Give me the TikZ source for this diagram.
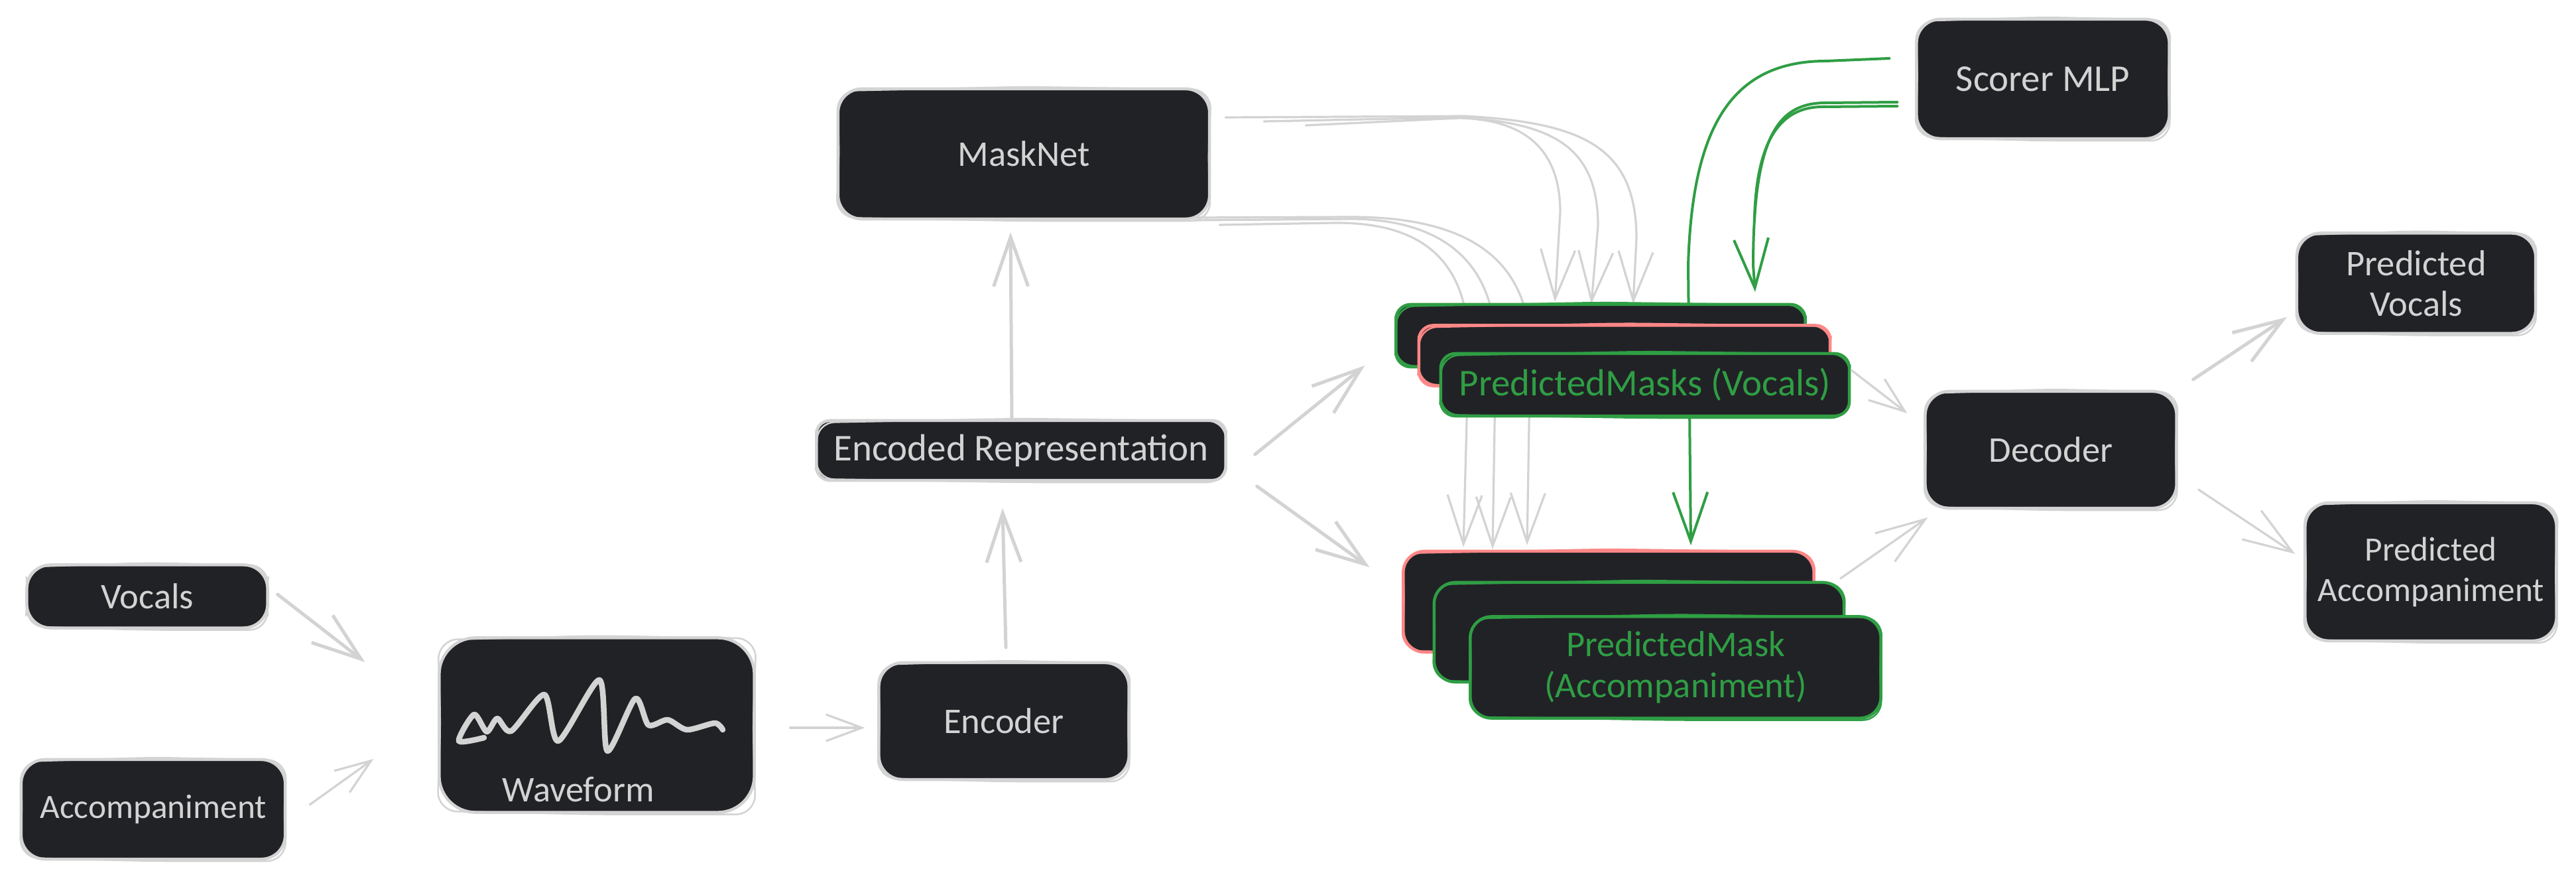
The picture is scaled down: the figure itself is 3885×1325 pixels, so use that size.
\documentclass[tikz,border=0pt]{standalone}
\usepackage{fontspec}
\setmainfont{Carlito}
\usetikzlibrary{arrows.meta,calc}
\definecolor{ink}{HTML}{212226}
\definecolor{chalk}{HTML}{D3D3D3}
\definecolor{sage}{HTML}{2F9E44}
\definecolor{rosy}{HTML}{FF8787}
\tikzset{
  boxn/.style={rectangle, fill=ink, rounded corners=0.36cm, line width=0.045cm, inner sep=0pt, outer sep=0pt,
    align=center, font=\fontsize{15.5pt}{17.4pt}\selectfont},
  lbl/.style={inner sep=0pt, outer sep=0pt, align=center, text=chalk, font=\fontsize{15.5pt}{17.4pt}\selectfont},
  link/.style={draw=chalk, line width=0.05cm, line cap=round, line join=round},
  thinlink/.style={draw=chalk, line width=0.032cm, line cap=round, line join=round},
  greenlink/.style={draw=sage, line width=0.04cm, line cap=round, line join=round},
  headL/.style={-{Straight Barb[length=0.74cm,width=0.52cm]}},
  headS/.style={-{Straight Barb[length=0.54cm,width=0.40cm]}},
  fontsmall/.style={font=\fontsize{14.6pt}{17.4pt}\selectfont},
  fontwide/.style={font=\fontsize{16.2pt}{17.4pt}\selectfont},
}
% #1 extra style, #2 name, #3 x, #4 y, #5 w, #6 h, #7 stroke, #8 text colour, #9 text
\newcommand{\rbox}[9][]{%
  \node[boxn, draw=#7, text=#8, minimum width=#5cm, minimum height=#6cm, #1] (#2) at (#3,#4) {#9};
  \draw[#7, line width=0.025cm, rounded corners=0.3cm]
    ([shift={(-2,3)}]#2.north west) -- ([shift={(0,-3)}]#2.north) -- ([shift={(3,1)}]#2.north east)
    -- ([shift={(-2,0)}]#2.east) -- ([shift={(2,3)}]#2.south east) -- ([shift={(0,3)}]#2.south)
    -- ([shift={(-3,-2)}]#2.south west) -- ([shift={(2,0)}]#2.west) -- cycle;
}
\begin{document}
\begin{tikzpicture}[x=0.01cm,y=-0.01cm]
\useasboundingbox (0,0) rectangle (3885,1325);
\fill[white] (0,0) rectangle (3885,1325);

% plain boxes that the long curves start from
\rbox{masknet}{1544}{232}{5.6}{1.96}{chalk}{chalk}{MaskNet}
\rbox[fontwide]{scorer}{3081}{119}{3.81}{1.8}{chalk}{chalk}{Scorer MLP}

% curves that run behind the stacks
\draw[thinlink,headL] ([shift={(145,-43)}]masknet.east) -- (2200,178) .. controls (2305,180) and (2353,230) .. (2353,320) -- (2345,455);
\draw[thinlink,headL] ([shift={(82,-49)}]masknet.east) -- (2200,177) .. controls (2340,185) and (2410,220) .. (2410,340) -- (2400,458);
\draw[thinlink,headL] ([shift={(24,-55)}]masknet.east) -- (2210,175) .. controls (2385,185) and (2468,220) .. (2468,360) -- (2463,458);
\draw[thinlink,headL] ([shift={(15,107)}]masknet.east) -- (2012,336) .. controls (2130,335) and (2213,380) .. (2215,520) -- (2207,825);
\draw[thinlink,headL] ([shift={(-24,100)}]masknet.east) -- (2041,330) .. controls (2170,332) and (2252,390) .. (2256,520) -- (2251,828);
\draw[thinlink,headL] ([shift={(-24,96)}]masknet.east) -- (2041,327) .. controls (2200,328) and (2302,380) .. (2308,520) -- (2303,822);
\draw[greenlink,headL] ([shift={(-41,-31)}]scorer.west) -- (2754,92) .. controls (2612,92) and (2552,190) .. (2546,400) -- (2550,822);
\draw[greenlink,headL] ([shift={(-29,35)}]scorer.west) -- (2754,155) .. controls (2684,155) and (2644,200) .. (2644,400) -- (2647,440);
\draw[greenlink] ([shift={(-29,41)}]scorer.west) -- (2749,161) .. controls (2689,161) and (2649,205) .. (2646,330);

% the rest of the boxes
\rbox{vocals}{222}{899}{3.63}{0.95}{chalk}{chalk}{Vocals}
\rbox[fontsmall]{accomp}{231}{1220}{3.98}{1.5}{chalk}{chalk}{Accompaniment}
\rbox[rounded corners=0.55cm]{wave}{900}{1093}{4.75}{2.63}{chalk}{chalk}{}
\node[lbl] (wavelabel) at (872,1190) {Waveform};
\rbox{encoder}{1514}{1087}{3.77}{1.76}{chalk}{chalk}{Encoder}
\rbox[rounded corners=0.2cm,fontwide]{encoded}{1540}{679}{6.17}{0.9}{chalk}{chalk}{Encoded Representation}
\rbox{decoder}{3093}{678}{3.79}{1.76}{chalk}{chalk}{Decoder}
\rbox{pvocals}{3644}{427}{3.6}{1.51}{chalk}{chalk}{Predicted\\Vocals}
\rbox[fontsmall]{paccomp}{3666}{862}{3.79}{2.08}{chalk}{chalk}{Predicted\\Accompaniment}

% stacks
\rbox[rounded corners=0.22cm]{mv1}{2414}{506}{6.17}{0.94}{sage}{sage}{}
\rbox[rounded corners=0.22cm]{mv2}{2450}{536}{6.2}{0.91}{rosy}{sage}{}
\rbox[rounded corners=0.22cm,fontwide]{mv3}{2481}{580}{6.16}{0.94}{sage}{sage}{PredictedMasks (Vocals)}
\rbox[rounded corners=0.32cm]{ma1}{2426}{907}{6.19}{1.52}{rosy}{sage}{}
\rbox[rounded corners=0.32cm]{ma2}{2472}{953}{6.18}{1.5}{sage}{sage}{}
\rbox[rounded corners=0.32cm]{ma3}{2527}{1006}{6.19}{1.53}{sage}{sage}{PredictedMask\\(Accompaniment)}

% waveform
\draw[chalk, line width=0.085cm, line join=round, line cap=round]
  plot[smooth, tension=0.45] coordinates {(730,1112) (692,1117) (715,1077) (734,1103) (750,1083) (771,1102) (821,1047) (842,1117) (904,1025) (916,1132) (958,1053) (978,1093) (1007,1085) (1036,1100) (1078,1090) (1090,1100)};

% straight arrows
\draw[link,headL] ([shift={(15,-3)}]vocals.east) -- ([shift={(-112,-95)}]wave.west);
\draw[thinlink,headS] ([shift={(37,-7)}]accomp.east) -- ([shift={(-99,51)}]wave.west);
\draw[thinlink,headS] ([shift={(54,4)}]wave.east) -- ([shift={(-21,10)}]encoder.west);
\draw[link,headL] ([shift={(3,-23)}]encoder.north) -- ([shift={(-28,42)}]encoded.south);
\draw[link,headL] ([shift={(-14,-2)}]encoded.north) -- ([shift={(-20,20)}]masknet.south);
\draw[link,headL] ([shift={(44,6)}]encoded.east) -- ([shift={(-47,45)}]mv1.west);
\draw[link,headL] ([shift={(47,54)}]encoded.east) -- ([shift={(-51,-52)}]ma1.west);
\draw[thinlink,headS] ([shift={(3,-22)}]mv3.east) -- ([shift={(-27,-55)}]decoder.west);
\draw[thinlink,headL] ([shift={(40,-35)}]ma1.east) -- ([shift={(4,102)}]decoder.west);
\draw[link,headL] ([shift={(25,-106)}]decoder.east) -- ([shift={(-15,51)}]pvocals.west);
\draw[thinlink,headL] ([shift={(33,60)}]decoder.east) -- ([shift={(-15,-27)}]paccomp.west);
\end{tikzpicture}
\end{document}
